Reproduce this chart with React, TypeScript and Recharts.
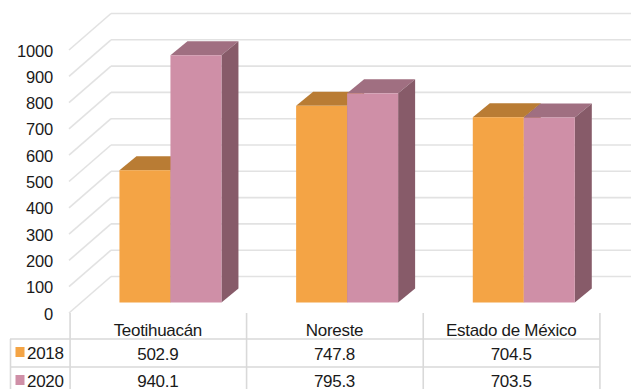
import { BarChart, Bar, XAxis, YAxis, CartesianGrid } from "recharts";

const CATEGORIES = ["Teotihuacán", "Noreste", "Estado de México"];
const VALUES_2018 = [502.9, 747.8, 704.5];
const VALUES_2020 = [940.1, 795.3, 703.5];
const YEARS = ["2018", "2020"];
const Y_TICKS = [0, 100, 200, 300, 400, 500, 600, 700, 800, 900, 1000];

const ORANGE = { front: "#f4a445", top: "#b97c34", side: "#8f6228" };
const PINK = { front: "#cf8fa7", top: "#a06f81", side: "#875b69" };
const GRID = "#e2e2e2";
const TABLE = "#d9d9d9";
const TEXT = "#1a1a1a";
const FONT = "'Liberation Sans', Arial, sans-serif";

// depth of the fake 3D bars and of the back wall
const DX = 17;
const DY = 14;
const WALL_X = 111;
const AXIS_X = 69;

const data = CATEGORIES.map((name, i) => ({
  name,
  y2018: VALUES_2018[i],
  y2020: VALUES_2020[i],
}));

const box3d = (colors: typeof ORANGE) => (p: any) => {
  const { x, y, width: w, height: h } = p;
  return (
    <g>
      <polygon points={`${x},${y} ${x + DX},${y - DY} ${x + w + DX},${y - DY} ${x + w},${y}`} fill={colors.top} />
      <polygon points={`${x + w},${y} ${x + w + DX},${y - DY} ${x + w + DX},${y + h - DY} ${x + w},${y + h}`} fill={colors.side} />
      <rect x={x} y={y} width={w} height={h} fill={colors.front} />
    </g>
  );
};

// each horizontal grid line becomes a wall line plus the diagonal running to the axis label
const wallLine = (p: any) => {
  const y = p.y1;
  return (
    <g key={p.key}>
      <line x1={AXIS_X} y1={y + 10.5} x2={WALL_X} y2={y - 26} stroke={GRID} strokeWidth={1.6} />
      <line x1={WALL_X} y1={y - 26} x2={631} y2={y - 26} stroke={GRID} strokeWidth={1.6} />
    </g>
  );
};

const YTick = (p: any) => (
  <text x={53} y={p.y + 11} textAnchor="end" dominantBaseline="central" fontSize={16.5} letterSpacing={-0.2} fontFamily={FONT} fill={TEXT}>
    {p.payload.value}
  </text>
);

// the data table under the plot is one column per category tick
const COL_W = 176.5;
const ROW_Y = [339, 367, 395];
const TableTick = (p: any) => {
  const i = p.index;
  const cx = p.x - 12;
  const left = cx - COL_W / 2;
  const right = left + COL_W;
  const label = { fontSize: 17, letterSpacing: -0.3, fontFamily: FONT, fill: TEXT, dominantBaseline: "central" } as const;
  return (
    <g>
      {i === 0 && (
        <g>
          <line x1={left} y1={313} x2={left} y2={389} stroke={TABLE} strokeWidth={1.6} />
          <line x1={10.5} y1={ROW_Y[0]} x2={10.5} y2={389} stroke={TABLE} strokeWidth={1.6} />
          <line x1={10} y1={ROW_Y[0]} x2={left} y2={ROW_Y[0]} stroke={TABLE} strokeWidth={1.6} />
          <line x1={10} y1={ROW_Y[1]} x2={left} y2={ROW_Y[1]} stroke={TABLE} strokeWidth={1.6} />
          <rect x={15.5} y={347} width={9} height={10} fill={ORANGE.front} />
          <rect x={15.5} y={375} width={9} height={10} fill={PINK.front} />
          <text x={27} y={353.5} {...label}>{YEARS[0]}</text>
          <text x={27} y={381} {...label}>{YEARS[1]}</text>
        </g>
      )}
      <line x1={right} y1={313} x2={right} y2={389} stroke={TABLE} strokeWidth={1.6} />
      <line x1={left} y1={ROW_Y[0]} x2={right} y2={ROW_Y[0]} stroke={TABLE} strokeWidth={1.6} />
      <line x1={left} y1={ROW_Y[1]} x2={right} y2={ROW_Y[1]} stroke={TABLE} strokeWidth={1.6} />
      <text x={cx - 0.5} y={330} textAnchor="middle" {...label}>{CATEGORIES[i]}</text>
      <text x={cx - 0.5} y={354} textAnchor="middle" {...label}>{VALUES_2018[i].toFixed(1)}</text>
      <text x={cx - 0.5} y={381} textAnchor="middle" {...label}>{VALUES_2020[i].toFixed(1)}</text>
    </g>
  );
};

export default function App() {
  return (
    <div style={{ position: "absolute", left: 0, top: 0, width: 631, height: 389, background: "#fff" }}>
      <BarChart
        width={631}
        height={389}
        data={data}
        margin={{ top: 39.5, right: 19, bottom: 0, left: 0 }}
        barCategoryGap="21.2%"
        barGap={0}
      >
        <CartesianGrid horizontal={wallLine} vertical={false} />
        <YAxis width={82} domain={[0, 1000]} ticks={Y_TICKS} axisLine={false} tickLine={false} tick={YTick} interval={0} />
        <XAxis dataKey="name" height={86.5} axisLine={false} tickLine={false} tick={TableTick} interval={0} />
        <Bar dataKey="y2018" name={YEARS[0]} shape={box3d(ORANGE)} isAnimationActive={false} />
        <Bar dataKey="y2020" name={YEARS[1]} shape={box3d(PINK)} isAnimationActive={false} />
      </BarChart>
    </div>
  );
}
